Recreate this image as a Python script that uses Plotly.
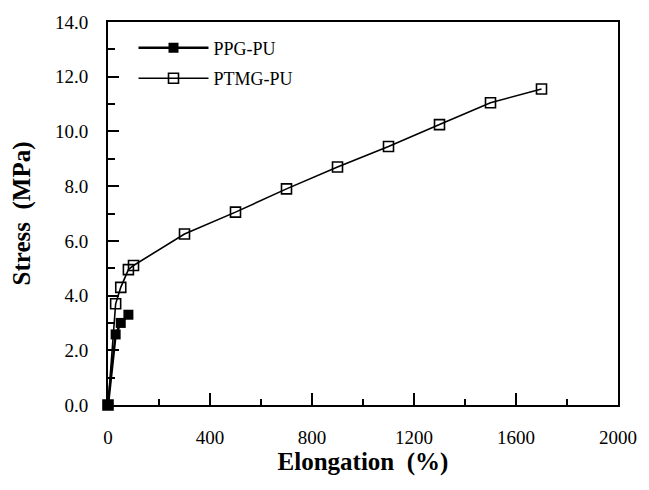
import plotly.graph_objects as go

ppg_x = [0, 30, 50, 80]
ppg_y = [0.0, 2.58, 3.0, 3.3]

ptmg_x = [0, 30, 50, 80, 100, 300, 500, 700, 900, 1100, 1300, 1500, 1700]
ptmg_y = [0.0, 3.7, 4.3, 4.95, 5.1, 6.25, 7.05, 7.9, 8.7, 9.45, 10.25, 11.05, 11.55]

x_ticks = [0, 400, 800, 1200, 1600, 2000]
y_ticks = [0, 2, 4, 6, 8, 10, 12, 14]

FONT = "Liberation Serif"

fig = go.Figure()
fig.add_trace(go.Scatter(
    x=ptmg_x, y=ptmg_y, name="PTMG-PU", mode="lines+markers", legendgroup="b",
    line=dict(color="black", width=1.6), cliponaxis=False, legendrank=2,
    marker=dict(symbol="square-open", size=10, color="black", line=dict(width=1.6)),
))
fig.add_trace(go.Scatter(
    x=ppg_x, y=ppg_y, name="PPG-PU", mode="lines+markers", legendgroup="a",
    line=dict(color="black", width=2.5), cliponaxis=False, legendrank=1,
    marker=dict(symbol="square", size=10, color="black"),
))

fig.update_layout(
    width=649, height=490,
    margin=dict(l=108, r=22, t=17, b=85),
    paper_bgcolor="white", plot_bgcolor="white",
    font=dict(family=FONT, color="black", size=19),
    showlegend=True,
    legend=dict(x=0.05, y=0.98, xanchor="left", yanchor="top",
                bgcolor="rgba(0,0,0,0)", font=dict(size=18, family=FONT),
                itemwidth=70, tracegroupgap=4),
)
fig.update_xaxes(
    range=[0, 2000], tickvals=x_ticks, ticktext=[str(v) for v in x_ticks],
    ticks="inside", ticklen=12, tickwidth=2, tickcolor="black",
    minor=dict(dtick=200, ticks="inside", ticklen=6, tickwidth=2, tickcolor="black"),
    showline=True, linewidth=2, linecolor="black", mirror=True,
    showgrid=False, zeroline=False, ticklabelstandoff=14,
    title=dict(text="<b>Elongation  (%)</b>", font=dict(size=25, family=FONT), standoff=5),
    tickfont=dict(size=19, family=FONT),
)
fig.update_yaxes(
    range=[0, 14], tickvals=y_ticks, ticktext=[f"{v:.1f}" for v in y_ticks],
    ticks="inside", ticklen=11, tickwidth=2, tickcolor="black",
    minor=dict(dtick=1, ticks="inside", ticklen=7, tickwidth=2, tickcolor="black"),
    showline=True, linewidth=2, linecolor="black", mirror=True,
    showgrid=False, zeroline=False, ticklabelstandoff=14,
    title=dict(text="<b>Stress  (MPa)</b>", font=dict(size=25, family=FONT), standoff=17),
    tickfont=dict(size=19, family=FONT),
)

fig.write_html("out.html")
